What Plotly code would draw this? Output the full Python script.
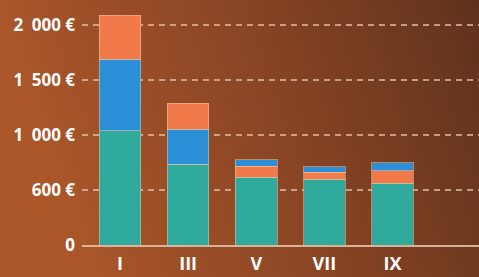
import base64
import plotly.graph_objects as go

# ---- data ----
categories = ["I", "III", "V", "VII", "IX"]
green = [1040, 736, 615, 597, 561]
blue_low = [650, 316, None, None, None]
orange = [400, 236, 103, 64, 112]
blue_high = [None, None, 55, 51, 75]
tick_vals = [0, 500, 1000, 1500, 2000]
tick_text = ["0", "600 €", "1\u2002000 €", "1\u2002500 €", "2\u2002000 €"]

W, H = 479, 277
ML, MR, MT, MB = 82, 0, 10, 32
pw, ph = W - ML - MR, H - MT - MB

edge = dict(color="rgba(235,195,160,0.55)", width=1)
fig = go.Figure()
fig.add_trace(go.Bar(x=categories, y=green, marker=dict(color="#30aa9c", line=edge)))
fig.add_trace(go.Bar(x=categories, y=blue_low, marker=dict(color="#2a8fd6", line=edge)))
fig.add_trace(go.Bar(x=categories, y=orange, marker=dict(color="#f27a4a", line=edge)))
fig.add_trace(go.Bar(x=categories, y=blue_high, marker=dict(color="#2a8fd6", line=edge)))

svg = (
    '<svg xmlns="http://www.w3.org/2000/svg" width="479" height="277" preserveAspectRatio="none">'
    '<defs><linearGradient id="g" x1="0" y1="0.2" x2="1" y2="0">'
    '<stop offset="0" stop-color="#ab572a"/><stop offset="0.5" stop-color="#8a4524"/>'
    '<stop offset="1" stop-color="#5f321c"/></linearGradient></defs>'
    '<rect width="479" height="277" fill="url(#g)"/></svg>'
)
src = "data:image/svg+xml;base64," + base64.b64encode(svg.encode()).decode()

fig.update_layout(
    width=W, height=H, autosize=False,
    margin=dict(l=ML, r=MR, t=MT, b=MB, pad=0),
    barmode="stack", bargap=0.39,
    showlegend=False, hovermode=False,
    paper_bgcolor="#8a4524", plot_bgcolor="rgba(0,0,0,0)",
    images=[dict(source=src, xref="paper", yref="paper",
                 x=-ML / pw, y=1 + MT / ph, sizex=W / pw, sizey=H / ph,
                 xanchor="left", yanchor="top", sizing="stretch", layer="below")],
    xaxis=dict(type="category", range=[-0.558, 5.27], showgrid=False, automargin=False,
               showline=True, linecolor="rgba(225,190,165,0.9)", linewidth=2,
               ticks="", ticklabelstandoff=1,
               tickfont=dict(family="Open Sans", size=18, color="white", weight="bold")),
    yaxis=dict(range=[0, 2136], tickvals=tick_vals, ticktext=tick_text, automargin=False,
               showgrid=True, gridcolor="rgba(225,190,170,0.75)", gridwidth=2,
               griddash="6px,5px", zeroline=False, ticks="", ticklabelstandoff=6,
               tickfont=dict(family="Open Sans", size=17, color="white", weight="bold")),
)

fig.write_html(
    "out.html",
    config={"displayModeBar": False},
    post_script="document.body.style.margin='0';document.body.style.overflow='hidden';",
)
